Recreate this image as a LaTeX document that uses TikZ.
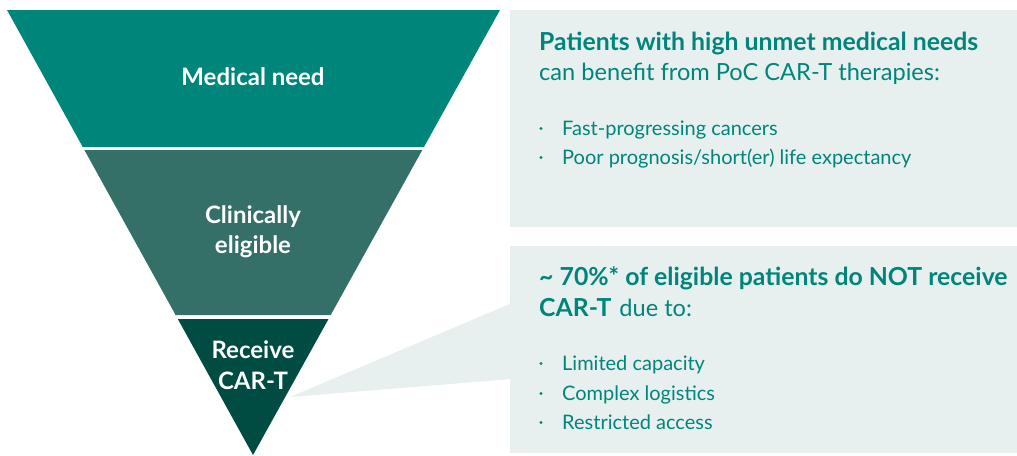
\documentclass[tikz,border=0pt]{standalone}
\usepackage{fontspec}
\setmainfont{Lato}
\definecolor{topc}{HTML}{00857A}
\definecolor{midc}{HTML}{346F68}
\definecolor{botc}{HTML}{004C43}
\definecolor{boxc}{HTML}{E7F0EF}
\definecolor{txtc}{HTML}{00857A}
\tikzset{
  seglabel/.style={text=white, font=\fontsize{24}{28}\selectfont\bfseries, anchor=base, inner sep=0pt},
  boxtitle/.style={text=txtc, font=\fontsize{23.6}{28}\selectfont, anchor=base west, inner sep=0pt},
  bullettext/.style={text=txtc, font=\fontsize{20}{24}\selectfont, anchor=base west, inner sep=0pt},
  bulletdot/.style={circle, fill=txtc, inner sep=0pt, minimum size=3.4pt},
  panel/.style={fill=boxc, draw=none, inner sep=0pt, anchor=north west}
}
\newcommand{\bt}[1]{{\fontsize{24.8}{28}\selectfont\bfseries #1}}
\begin{document}
\begin{tikzpicture}[x=1pt,y=-1pt]
\useasboundingbox (0,0) rectangle (1017,455);
% funnel
\fill[topc] (7,10) -- (500,10) -- (423.96,147) -- (82.73,147) -- cycle;
\fill[midc] (84.39,150) -- (422.29,150) -- (330.7,315) -- (175.6,315) -- cycle;
\fill[botc] (177.8,319) -- (328.5,319) -- (253,455) -- cycle;
\node[seglabel] (need) at (253,85) {Medical need};
\node[seglabel] (clin1) at (253,223) {Clinically};
\node[seglabel] (clin2) at (253,253) {eligible};
\node[seglabel] (rec1) at (253,358) {Receive};
\node[seglabel] (rec2) at (253,389) {CAR-T};
% panels
\node[panel, minimum width=507pt, minimum height=217pt] (box1) at (510,10) {};
\coordinate (tip) at (290,397);
\fill[boxc] (tip) -- (512,303) -- (512,379) -- cycle;
\node[panel, minimum width=507pt, minimum height=207pt] (box2) at (510,246) {};
% box 1 text
\node[boxtitle] (t1a) at (539,50) {\bt{Patients with high unmet medical needs}};
\node[boxtitle] (t1b) at (539,80) {can benefit from PoC CAR-T therapies:};
\node[bulletdot] (d1) at (541,128.5) {};
\node[bullettext] (b1) at (562,135) {Fast-progressing cancers};
\node[bulletdot] (d2) at (541,157.5) {};
\node[bullettext] (b2) at (562,164) {Poor prognosis/short(er) life expectancy};
% box 2 text
\node[boxtitle] (t2a) at (539,285) {\bt{\char`~\ 70\%* of eligible patients do NOT receive}};
\node[boxtitle] (t2b) at (539,316) {\bt{CAR-T}\hspace{8pt}due to:};
\node[bulletdot] (d3) at (541,363.5) {};
\node[bullettext] (b3) at (562,370) {Limited capacity};
\node[bulletdot] (d4) at (541,393.5) {};
\node[bullettext] (b4) at (562,400) {Complex logistics};
\node[bulletdot] (d5) at (541,422.5) {};
\node[bullettext] (b5) at (562,429) {Restricted access};
\end{tikzpicture}
\end{document}
